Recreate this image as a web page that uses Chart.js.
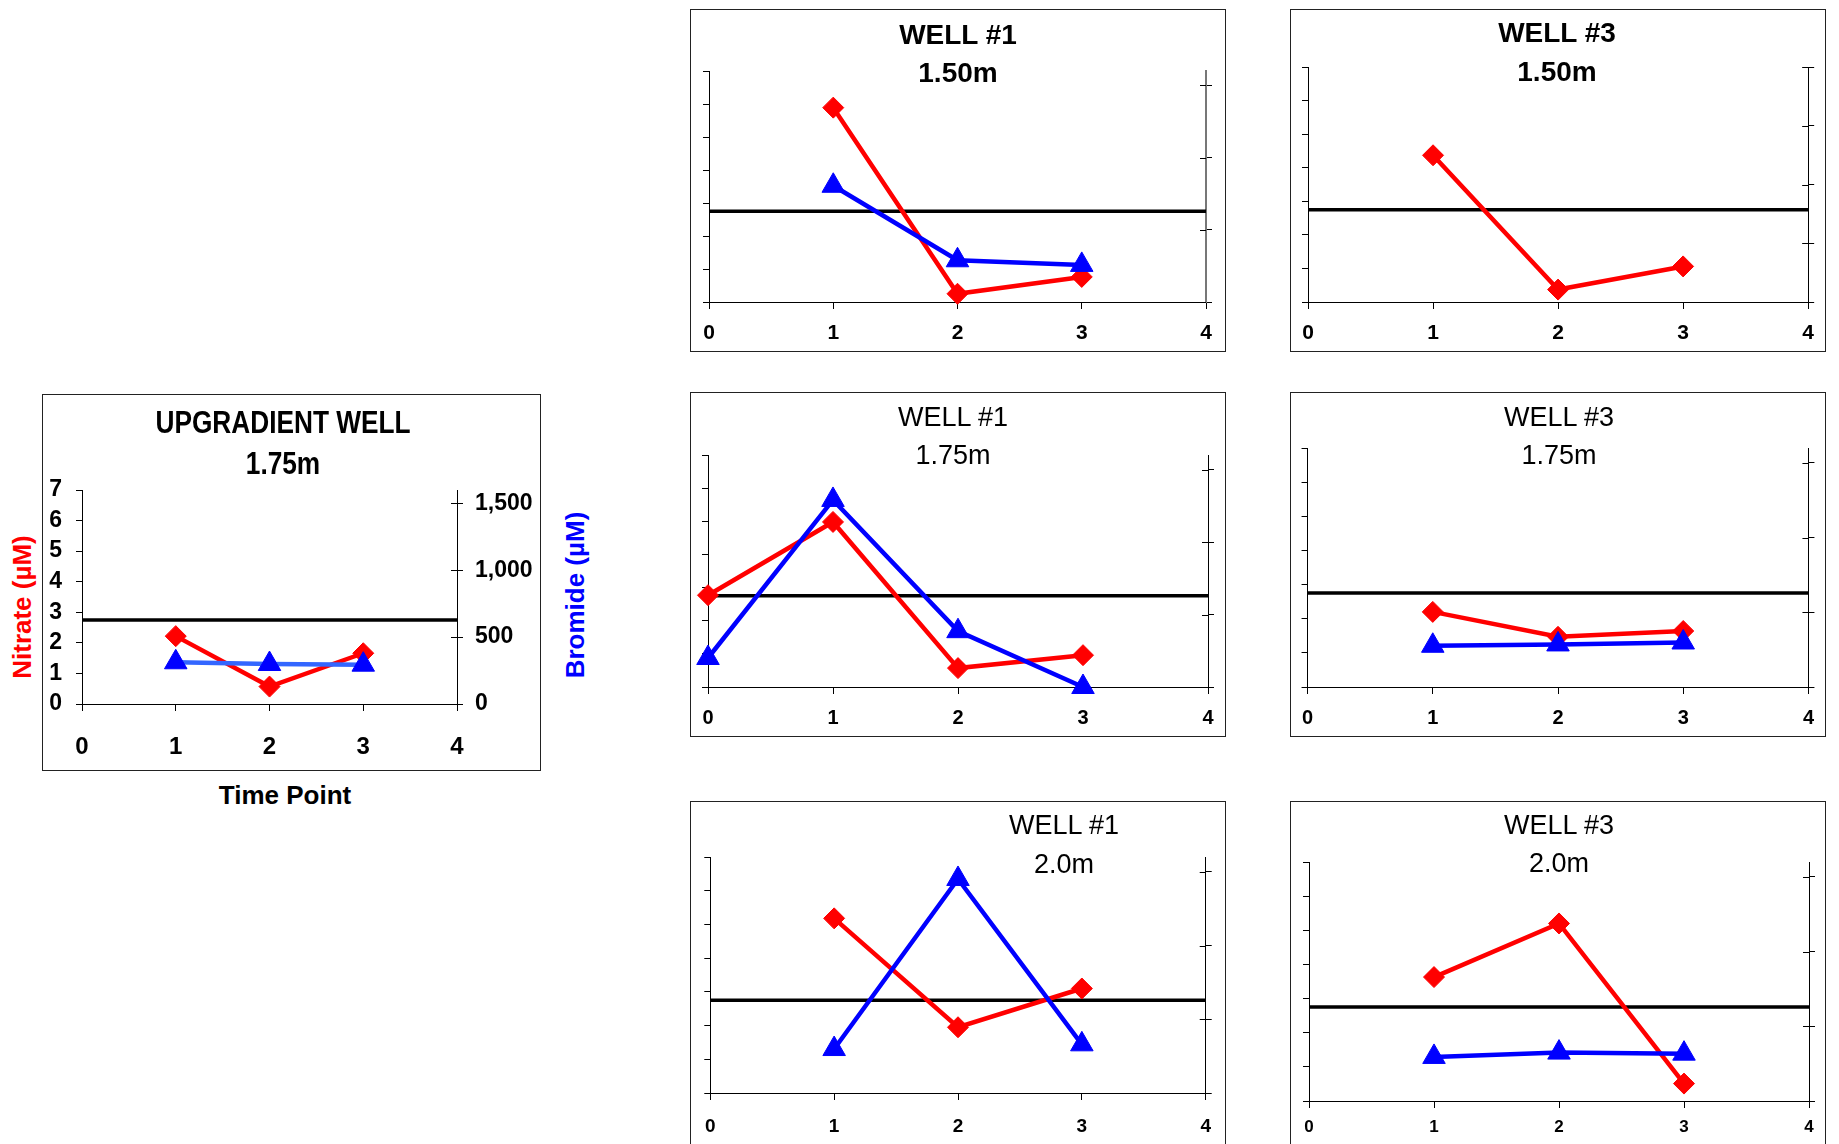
<!DOCTYPE html>
<html>
<head>
<meta charset="utf-8">
<script src="https://cdn.jsdelivr.net/npm/chart.js@4.4.1/dist/chart.umd.min.js"></script>
<style>
  html, body { margin: 0; padding: 0; background: #fff; }
  body { width: 1839px; height: 1144px; overflow: hidden; position: relative; font-family: "Liberation Sans", Arial, sans-serif; }
  .box { position: absolute; border: 1.5px solid #222; box-sizing: border-box; }
  canvas { position: absolute; }
  .txt { position: absolute; transform: translate(-50%, -50%); white-space: nowrap; line-height: 1; color: #000; }
</style>
</head>
<body>
<script>
// shared values
const threshold = 2.75;
const timeTicks = [0, 1, 2, 3, 4];
const nitrateTicks = [0, 1, 2, 3, 4, 5, 6, 7];
const bromideTicks = [0, 500, 1000, 1500];
const bromideTicksLong = [0, 500, 1000, 1500, 2000];

// upgradient well, 1.75m
const upTime = [1, 2, 3];
const upNitrate = [2.22, 0.57, 1.66];
const upBromide = [312, 299, 294];

// well #1
const w1m150Time = [1, 2, 3];
const w1m150Nitrate = [5.89, 0.25, 0.76];
const w1m150Bromide = [805, 289, 257];

const w1m175Time = [0, 1, 2, 3];
const w1m175Nitrate = [2.77, 4.98, 0.57, 0.96];
const w1m175Bromide = [200, 1290, 385, 0];

const w1m200Time = [1, 2, 3];
const w1m200Nitrate = [5.18, 1.95, 3.1];
const w1m200Bromide = [298, 1451, 330];

// well #3
const w3m150Time = [1, 2, 3];
const w3m150Nitrate = [4.37, 0.37, 1.06];

const w3m175Time = [1, 2, 3];
const w3m175Nitrate = [2.2, 1.47, 1.64];
const w3m175Bromide = [276, 285, 298];

const w3m200Time = [1, 2, 3];
const w3m200Nitrate = [3.63, 5.2, 0.51];
const w3m200Bromide = [295, 324, 317];

const SANS = '"Liberation Sans", Arial, sans-serif';

// box = [left, top, right, bottom], plot = [left, top, right, bottom] in page px
const panels = [
  { title: ['UPGRADIENT WELL', '1.75m'], tFont: `bold 32px ${SANS}`, narrow: true, tx: 283, ty: [422, 463],
    box: [42, 394, 541, 771], plot: [82, 490, 457, 704], y2Max: 1600, y2Ticks: bromideTicks, labels: true,
    time: upTime, nitrate: upNitrate, bromide: upBromide, bromideLine: '#3366ff',
    xFont: { family: SANS, size: 24, weight: 'bold' }, xPad: 22 },
  { title: ['WELL #1', '1.50m'], tFont: `bold 28px ${SANS}`, tx: 958, ty: [35, 73],
    box: [690, 9, 1226, 352], plot: [709, 71, 1206, 302], y2Max: 1600, y2Ticks: bromideTicks, rightColor: '#777',
    time: w1m150Time, nitrate: w1m150Nitrate, bromide: w1m150Bromide,
    xFont: { family: SANS, size: 21, weight: 'bold' }, xPad: 12 },
  { title: ['WELL #3', '1.50m'], tFont: `bold 28px ${SANS}`, tx: 1557, ty: [33, 72],
    box: [1290, 9, 1826, 352], plot: [1308, 67, 1813, 302], y2Max: 2000, y2Ticks: bromideTicksLong,
    time: w3m150Time, nitrate: w3m150Nitrate,
    xFont: { family: SANS, size: 21, weight: 'bold' }, xPad: 12 },
  { title: ['WELL #1', '1.75m'], tFont: `27px ${SANS}`, tx: 953, ty: [417, 455],
    box: [690, 392, 1226, 737], plot: [708, 455, 1208, 687], y2Max: 1600, y2Ticks: bromideTicks,
    time: w1m175Time, nitrate: w1m175Nitrate, bromide: w1m175Bromide,
    xFont: { family: SANS, size: 20, weight: 'bold' }, xPad: 12 },
  { title: ['WELL #3', '1.75m'], tFont: `27px ${SANS}`, tx: 1559, ty: [417, 455],
    box: [1290, 392, 1826, 737], plot: [1306, 448, 1809, 687], y2Max: 1600, y2Ticks: bromideTicks,
    time: w3m175Time, nitrate: w3m175Nitrate, bromide: w3m175Bromide,
    xFont: { family: SANS, size: 20, weight: 'bold' }, xPad: 12 },
  { title: ['WELL #1', '2.0m'], tFont: `27px ${SANS}`, tx: 1064, ty: [825, 864],
    box: [690, 801, 1226, 1170], plot: [709, 857, 1212, 1093], y2Max: 1600, y2Ticks: bromideTicks,
    time: w1m200Time, nitrate: w1m200Nitrate, bromide: w1m200Bromide,
    xFont: { family: SANS, size: 19, weight: 'bold' }, xPad: 15 },
  { title: ['WELL #3', '2.0m'], tFont: `27px ${SANS}`, tx: 1559, ty: [825, 863],
    box: [1290, 801, 1826, 1170], plot: [1309, 862, 1809, 1101], y2Max: 1600, y2Ticks: bromideTicks,
    time: w3m200Time, nitrate: w3m200Nitrate, bromide: w3m200Bromide,
    xFont: { family: SANS, size: 17, weight: 'bold' }, xPad: 9 }
];

// Excel style cross ticks on the right axis
const crossTicks = {
  id: 'crossTicks',
  afterDraw(chart) {
    const s = chart.scales.y2;
    const ctx = chart.ctx;
    ctx.save();
    ctx.strokeStyle = '#000';
    ctx.lineWidth = 1;
    s.ticks.forEach(t => {
      const y = Math.round(s.getPixelForValue(t.value)) + 0.5;
      ctx.beginPath();
      ctx.moveTo(s.left - 6, y);
      ctx.lineTo(s.left, y);
      ctx.stroke();
    });
    ctx.restore();
  }
};

const fixedTicks = values => s => { s.ticks = values.map(v => ({ value: v })); };

function addText(text, x, y, css) {
  const d = document.createElement('div');
  d.className = 'txt';
  d.textContent = text;
  d.style.left = x + 'px';
  d.style.top = y + 'px';
  Object.assign(d.style, css || {});
  document.body.appendChild(d);
}

function makePanel(p) {
  const [bl, bt, br, bb] = p.box;
  const [pl, pt, pr, pb] = p.plot;

  const frame = document.createElement('div');
  frame.className = 'box';
  Object.assign(frame.style, { left: bl + 'px', top: bt + 'px', width: (br - bl) + 'px', height: (bb - bt) + 'px' });
  document.body.appendChild(frame);

  const cv = document.createElement('canvas');
  cv.width = br - bl;
  cv.height = bb - bt;
  cv.style.left = bl + 'px';
  cv.style.top = bt + 'px';
  document.body.appendChild(cv);

  const t0 = timeTicks[0], t1 = timeTicks[timeTicks.length - 1];
  const datasets = [
    {
      label: 'limit', data: [{ x: t0, y: threshold }, { x: t1, y: threshold }],
      borderColor: '#000', borderWidth: 3.5, pointRadius: 0, yAxisID: 'y', order: 3, clip: false
    },
    {
      label: 'Nitrate', data: p.time.map((t, i) => ({ x: t, y: p.nitrate[i] })),
      borderColor: '#ff0000', backgroundColor: '#ff0000', borderWidth: 4.5,
      pointStyle: 'rectRot', pointRadius: 10.5, pointBorderWidth: 1, yAxisID: 'y', order: 2, clip: false
    }
  ];
  if (p.bromide) {
    datasets.push({
      label: 'Bromide', data: p.time.map((t, i) => ({ x: t, y: p.bromide[i] })),
      borderColor: p.bromideLine || '#0000ff', backgroundColor: '#0000ff', pointBorderColor: '#0000ff',
      borderWidth: 4.5, pointStyle: 'triangle', pointRadius: 13, pointBorderWidth: 1,
      yAxisID: 'y2', order: 1, clip: false
    });
  }

  const yFont = { family: SANS, size: 23, weight: 'bold' };

  new Chart(cv, {
    type: 'line',
    data: { datasets },
    options: {
      responsive: false,
      animation: false,
      events: [],
      layout: { padding: { top: pt - bt, left: 0, right: 0, bottom: 0 } },
      plugins: { legend: { display: false }, tooltip: { enabled: false }, title: { display: false } },
      scales: {
        x: {
          type: 'linear', min: t0, max: t1,
          afterBuildTicks: fixedTicks(timeTicks),
          ticks: { color: '#000', font: p.xFont, padding: p.xPad, maxRotation: 0, autoSkip: false },
          grid: { drawOnChartArea: false, tickLength: 7, color: '#000' },
          border: { color: '#000', width: 1 },
          afterFit: s => { s.height = bb - pb; }
        },
        y: {
          position: 'left', min: nitrateTicks[0], max: nitrateTicks[nitrateTicks.length - 1],
          afterBuildTicks: fixedTicks(nitrateTicks),
          ticks: { display: !!p.labels, autoSkip: false, color: '#000', font: yFont, padding: 14 },
          grid: { drawOnChartArea: false, tickLength: 6, color: '#000' },
          border: { color: '#000', width: 1 },
          afterFit: s => { s.width = pl - bl; }
        },
        y2: {
          position: 'right', min: 0, max: p.y2Max,
          afterBuildTicks: fixedTicks(p.y2Ticks),
          ticks: {
            display: !!p.labels, autoSkip: false, color: '#000', font: yFont, padding: 12,
            callback: v => v.toLocaleString('en-US')
          },
          grid: { drawOnChartArea: false, tickLength: 6, color: '#000' },
          border: { color: p.rightColor || '#000', width: p.rightColor ? 2 : 1 },
          afterFit: s => { s.width = br - pr; }
        }
      }
    },
    plugins: [crossTicks]
  });

  const tform = p.narrow ? 'translate(-50%, -50%) scaleX(0.82)' : 'translate(-50%, -50%)';
  p.title.forEach((line, i) => addText(line, p.tx, p.ty[i], { font: p.tFont, transform: tform }));
}

panels.forEach(makePanel);

// axis titles of the upgradient panel
addText('Nitrate (\u00b5M)', 22, 607, { font: `bold 26px ${SANS}`, color: '#ff0000', transform: 'translate(-50%, -50%) rotate(-90deg)' });
addText('Bromide (\u00b5M)', 575, 595, { font: `bold 26px ${SANS}`, color: '#0000ff', transform: 'translate(-50%, -50%) rotate(-90deg)' });
addText('Time Point', 285, 795, { font: `bold 26px ${SANS}` });
</script>
</body>
</html>
